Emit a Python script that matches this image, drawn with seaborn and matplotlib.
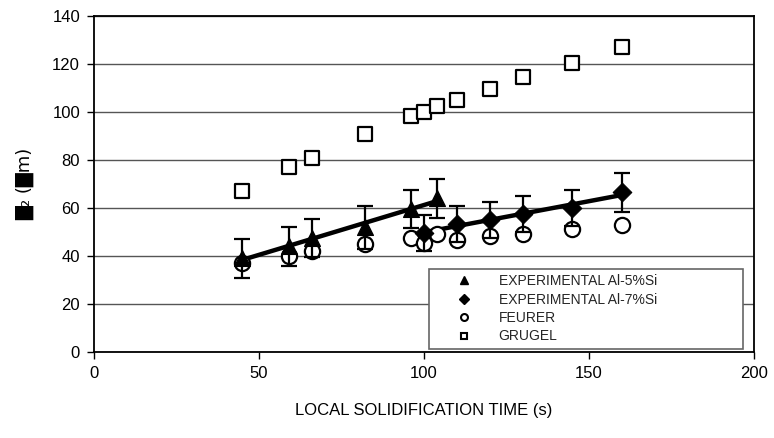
import numpy as np
import pandas as pd
import matplotlib
matplotlib.use("Agg")
import matplotlib.pyplot as plt
import seaborn as sns
from matplotlib.lines import Line2D

# data
al5_time = [45, 59, 66, 82, 96, 104]
al5_lambda = [39, 44, 47.5, 52, 59.5, 64]
al5_err = [8, 8, 8, 9, 8, 8]

al7_time = [100, 110, 120, 130, 145, 160]
al7_lambda = [49.5, 53.5, 55, 57.5, 60, 66.5]
al7_err = [7.5, 7.5, 7.5, 7.5, 7.5, 8]

feurer_time = [45, 59, 66, 82, 96, 100, 104, 110, 120, 130, 145, 160]
feurer_lambda = [37, 40, 42, 45, 47.3, 45.4, 49.2, 46.8, 48.2, 49, 51.4, 53]

grugel_time = [45, 59, 66, 82, 96, 100, 104, 110, 120, 130, 145, 160]
grugel_lambda = [67, 77, 81, 91, 98.5, 100, 102.5, 105, 109.5, 114.5, 120.5, 127]

sns.set_theme(style="white")
plt.rcParams['font.family'] = ['Liberation Sans', 'DejaVu Sans']

fig = plt.figure(figsize=(7.74, 4.38), dpi=100)
ax = fig.add_axes([0.1214, 0.1963, 0.8527, 0.7672])

df5 = pd.DataFrame({'t': al5_time, 'l': al5_lambda})
df7 = pd.DataFrame({'t': al7_time, 'l': al7_lambda})

# Grugel squares
sns.scatterplot(x=grugel_time, y=grugel_lambda, marker='s', s=95,
                facecolor='white', edgecolor='black', linewidth=1.6, ax=ax, zorder=3)

# trend lines
sns.regplot(data=df5, x='t', y='l', ci=None, scatter=False, ax=ax,
            line_kws={'color': 'black', 'lw': 3.2, 'zorder': 4})
sns.regplot(data=df7, x='t', y='l', ci=None, scatter=False, ax=ax,
            line_kws={'color': 'black', 'lw': 3.2, 'zorder': 4})

# Feurer circles
sns.scatterplot(x=feurer_time, y=feurer_lambda, marker='o', s=120,
                facecolor='white', edgecolor='black', linewidth=1.6, ax=ax, zorder=5)

# experimental with error bars
ax.errorbar(al5_time, al5_lambda, yerr=al5_err, fmt='none', ecolor='black',
            elinewidth=1.6, capsize=6, capthick=1.6, zorder=6)
ax.errorbar(al7_time, al7_lambda, yerr=al7_err, fmt='none', ecolor='black',
            elinewidth=1.6, capsize=6, capthick=1.6, zorder=6)
sns.scatterplot(x=al5_time, y=al5_lambda, marker='^', s=130, color='black',
                edgecolor='black', ax=ax, zorder=7)
sns.scatterplot(x=al7_time, y=al7_lambda, marker='D', s=90, color='black',
                edgecolor='black', ax=ax, zorder=7)

ax.set_xlim(0, 200)
ax.set_ylim(0, 140)
ax.set_xticks([0, 50, 100, 150, 200])
ax.set_yticks(range(0, 141, 20))
ax.yaxis.grid(True, color='#555555', lw=1.0)
ax.xaxis.grid(False)
ax.set_axisbelow(True)
for s in ax.spines.values():
    s.set_color('black')
    s.set_linewidth(1.3)
ax.tick_params(axis='both', which='major', direction='out', length=5, width=1,
               color='black', labelsize=12, labelcolor='black',
               left=True, bottom=True, pad=5)

ax.set_xlabel('LOCAL SOLIDIFICATION TIME (s)', fontsize=12, color='black', labelpad=16)
ax.set_ylabel('█₂ (█m)', fontsize=13, color='black', labelpad=13,
              family=['DejaVu Sans'])

handles = [
    Line2D([], [], marker='^', color='black', ls='none', markersize=6),
    Line2D([], [], marker='D', color='black', ls='none', markersize=5),
    Line2D([], [], marker='o', mfc='white', mec='black', mew=1.5, ls='none', markersize=5),
    Line2D([], [], marker='s', mfc='white', mec='black', mew=1.5, ls='none', markersize=5),
]
labels = ['EXPERIMENTAL Al-5%Si', 'EXPERIMENTAL Al-7%Si', 'FEURER', 'GRUGEL']
leg = ax.legend(handles, labels, loc='lower left', mode='expand',
                bbox_to_anchor=(0.508, 0.009, 0.475, 0.229), borderaxespad=0,
                fontsize=10, frameon=True, fancybox=False, framealpha=1,
                edgecolor='#666666', labelspacing=0.32, handletextpad=0.4,
                borderpad=0.4, handlelength=4.2)
leg.get_frame().set_linewidth(1.2)
leg.set_zorder(10)

fig.savefig('out.png', dpi=100)
